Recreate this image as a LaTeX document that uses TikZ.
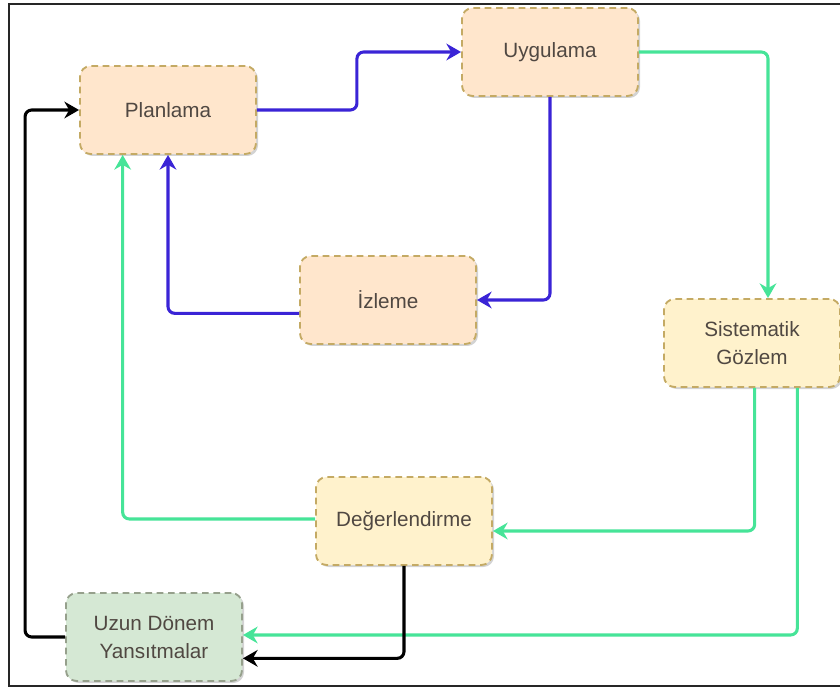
\documentclass[tikz,border=0pt]{standalone}
\usepackage{fontspec}
\setmainfont{Liberation Sans}
\definecolor{peachfill}{RGB}{255, 230, 204}
\definecolor{creamfill}{RGB}{255, 242, 204}
\definecolor{sagefill}{RGB}{213, 232, 212}
\definecolor{goldline}{RGB}{196, 170, 100}
\definecolor{sageline}{RGB}{150, 160, 140}
\definecolor{flowblue}{RGB}{58, 36, 214}
\definecolor{flowgreen}{RGB}{70, 228, 152}
\definecolor{labelgray}{RGB}{80, 72, 66}
\usetikzlibrary{
  arrows.meta,
  positioning,
  shadows,
}
\tikzset{
  >={Stealth[length=11pt,width=12.5pt]},
  stagebox/.style={draw=goldline,line width=1.4pt,dash pattern=on 5pt off 3.5pt,rounded corners=8pt,
    minimum width=132pt,minimum height=66pt,align=center,text=labelgray,
    font=\fontsize{15.5}{21}\selectfont,
    drop shadow={shadow xshift=1.5pt,shadow yshift=-1.5pt,opacity=0.35}},
  flow/.style={->,line width=2.3pt,rounded corners=5pt},
}

\begin{document}
\begin{tikzpicture}[x=0.75pt,y=-0.75pt]

        \useasboundingbox (0,0) rectangle (840,688);
        \draw[black!85,line width=1pt] (840,4) -- (9,4) -- (9,686) -- (840,686);

        \node[stagebox,fill=peachfill]    (plan)   at (168,110)   {Planlama};
        \node[stagebox,fill=peachfill]    (uyg)    at (550,52)    {Uygulama};
        \node[stagebox,fill=peachfill]    (izl)    at (388,300)   {İzleme};
        \node[stagebox,fill=creamfill]    (sis)    at (752,343)   {Sistematik\\Gözlem};
        \node[stagebox,fill=creamfill]    (deg)    at (404,521)   {Değerlendirme};
        \node[stagebox,fill=sagefill,draw=sageline]    (uzun)   at (154,637)   {Uzun Dönem\\Yansıtmalar};

        \draw[flow,flowblue] (plan.east) -- ++(100,0) |- (uyg.west);
        \draw[flow,flowblue] (uyg.south) |- (izl.east);
        \draw[flow,flowblue] ([yshift=-10pt]izl.west) -| (plan.south);
        \draw[flow,flowgreen] (uyg.east) -| ([xshift=12pt]sis.north);
        \draw[flow,flowgreen] ([xshift=2pt]sis.south) |- ([yshift=-7.5pt]deg.east);
        \draw[flow,flowgreen] ([xshift=34pt]sis.south) |- ([yshift=1.5pt]uzun.east);
        \draw[flow,flowgreen] ([yshift=1.5pt]deg.west) -| ([xshift=-34pt]plan.south);
        \draw[flow,black] (deg.south) |- ([yshift=-16pt]uzun.east);
        \draw[flow,black] (uzun.west) -- ++(-40,0) |- (plan.west);

    \end{tikzpicture}
\end{document}
